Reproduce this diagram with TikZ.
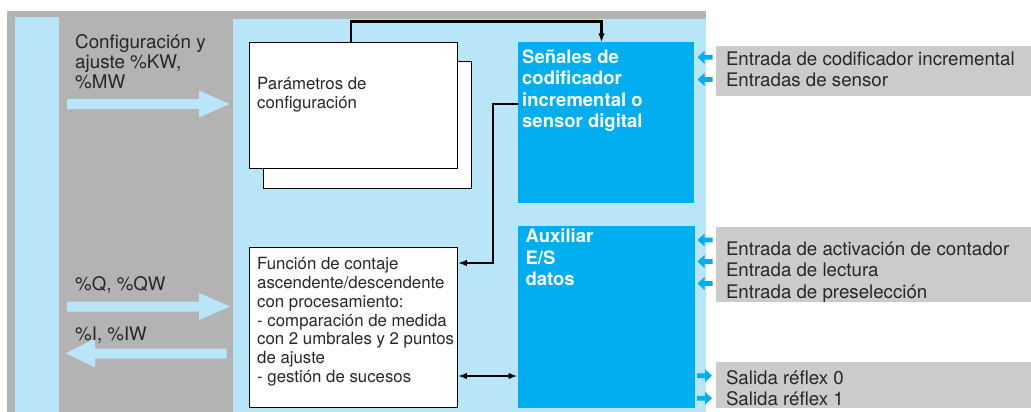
\documentclass[tikz,border=0pt]{standalone}
\usepackage{fontspec}
\setmainfont{TeX Gyre Heros}
\usetikzlibrary{arrows.meta}
\definecolor{outergray}{HTML}{B3B3B3}
\definecolor{lblue}{HTML}{B9E5F9}
\definecolor{cyanbox}{HTML}{00AEEF}
\definecolor{labelgray}{HTML}{CBCBCB}
\definecolor{txt}{HTML}{2A2627}
\newcommand\myfs[2]{\fontsize{#1}{#2}\selectfont}
\tikzset{
  whitebox/.style={draw=black, line width=0.9pt, fill=white, inner sep=0pt},
  cyanrect/.style={fill=cyanbox, draw=none, inner sep=0pt},
  graylabel/.style={fill=labelgray, draw=none, inner sep=0pt},
  lbltext/.style={anchor=north west, inner sep=0pt, align=left, text=txt, font=\myfs{18.7}{21.3}},
  boxtext/.style={anchor=north west, inner sep=0pt, align=left, text=txt, font=\myfs{16.8}{19}},
  boldtext/.style={anchor=north west, inner sep=0pt, align=left, text=white, font=\myfs{18.5}{21.1}\bfseries},
  conn/.style={line width=2.2pt, draw=black},
  tip/.tip={Latex[length=9pt,width=6.5pt]},
  larr/.pic={\fill[cyanbox] (0,0) -- (7,-6.5) -- (7,-2.4) -- (15,-2.4) -- (15,2.4) -- (7,2.4) -- (7,6.5) -- cycle;},
  rarr/.pic={\fill[cyanbox] (0,0) -- (-7,-6.5) -- (-7,-2.4) -- (-15,-2.4) -- (-15,2.4) -- (-7,2.4) -- (-7,6.5) -- cycle;}
}
\begin{document}
\begin{tikzpicture}[x=1pt,y=-1pt]
\useasboundingbox (0,0) rectangle (1031,412);
\fill[white] (0,0) rectangle (1031,412);
% background regions
\fill[outergray] (7,11) rectangle (705.5,412);
\fill[lblue] (15,17) rectangle (59.3,412);
\fill[lblue] (232.8,19) rectangle (705.5,412);
% big flow arrows
\fill[lblue] (67,99) -- (199,99) -- (199,90.5) -- (229.5,104) -- (199,117.5) -- (199,109) -- (67,109) -- cycle;
\fill[lblue] (67,301.5) -- (199,301.5) -- (199,293) -- (230,306.5) -- (199,320) -- (199,311.5) -- (67,311.5) -- cycle;
\fill[lblue] (226.7,348.5) -- (95,348.5) -- (95,338.5) -- (65.7,353.3) -- (95,367.5) -- (95,358.5) -- (226.7,358.5) -- cycle;
% left texts
\node[lbltext, font=\myfs{18.8}{20}] (cfg) at (75,34.1) {Configuración y\\ajuste \%KW,\\\%MW};
\node[anchor=base west, inner sep=0pt, text=txt, font=\myfs{18.7}{20}] (qw) at (75,290.7) {\%Q, \%QW};
\node[anchor=base west, inner sep=0pt, text=txt, font=\myfs{18.7}{20}] (iw) at (75,340) {\%I, \%IW};
% parameter boxes
\node[whitebox, minimum width=208, minimum height=127] (paramback) at (367,124.5) {};
\node[whitebox, minimum width=208, minimum height=126] (param) at (353,105) {};
\node[boxtext] (paramtxt) at (257,76.9) {Parámetros de\\configuración};
% function box
\node[whitebox, minimum width=208.5, minimum height=160] (fun) at (353.25,327) {};
\node[boxtext, font=\myfs{16.8}{18.9}] (funtxt) at (257,256.9) {Función de contaje\\ascendente/descendente\\con procesamiento:\\- comparación de medida\\con 2 umbrales y 2 puntos\\de ajuste\\- gestión de sucesos};
% cyan boxes
\node[cyanrect, minimum width=176.3, minimum height=160.5] (sen) at (605.85,122.75) {};
\node[boldtext] (sentxt) at (522,49.9) {Señales de\\codificador\\incremental o\\sensor digital};
\node[cyanrect, minimum width=176.8, minimum height=182.3] (aux) at (606.1,317.15) {};
\node[boldtext, font=\myfs{18.5}{21.2}\bfseries] (auxtxt) at (525.4,228.9) {Auxiliar\\E/S\\datos};
% right gray labels
\node[graylabel, minimum width=315, minimum height=49.8] (lab1) at (873.5,70.6) {};
\node[lbltext, font=\myfs{18.7}{21.5}] (lab1txt) at (725.8,51.6) {Entrada de codificador incremental\\Entradas de sensor};
\node[graylabel, minimum width=315, minimum height=75] (lab2) at (873.5,264.8) {};
\node[lbltext] (lab2txt) at (725.8,241.6) {Entrada de activación de contador\\Entrada de lectura\\Entrada de preselección};
\node[graylabel, minimum width=315, minimum height=45.4] (lab3) at (873.5,385) {};
\node[lbltext, font=\myfs{18.7}{21}] (lab3txt) at (725.8,370.6) {Salida réflex 0\\Salida réflex 1};
% small cyan arrows
\pic at (697.5,57.3) {larr};
\pic at (697.5,79.5) {larr};
\pic at (697.5,240) {larr};
\pic at (697.5,261.5) {larr};
\pic at (697.5,283.5) {larr};
\pic at (712,375.7) {rarr};
\pic at (712,398.3) {rarr};
% connectors
\coordinate (t1) at (351,21.5);
\coordinate (t2) at (601.5,21.5);
\coordinate (c1) at (493,104.3);
\coordinate (c2) at (493,263);
\coordinate (d1) at (493,376);
\draw[conn, -tip] (param.north -| t1) -- (t1) -- (t2) -- (sen.north -| t2);
\draw[conn, -tip] (sen.west |- c1) -- (c1) -- (c2) -- (fun.east |- c2);
\draw[conn, tip-tip] (fun.east |- d1) -- (aux.west |- d1);
\end{tikzpicture}
\end{document}
